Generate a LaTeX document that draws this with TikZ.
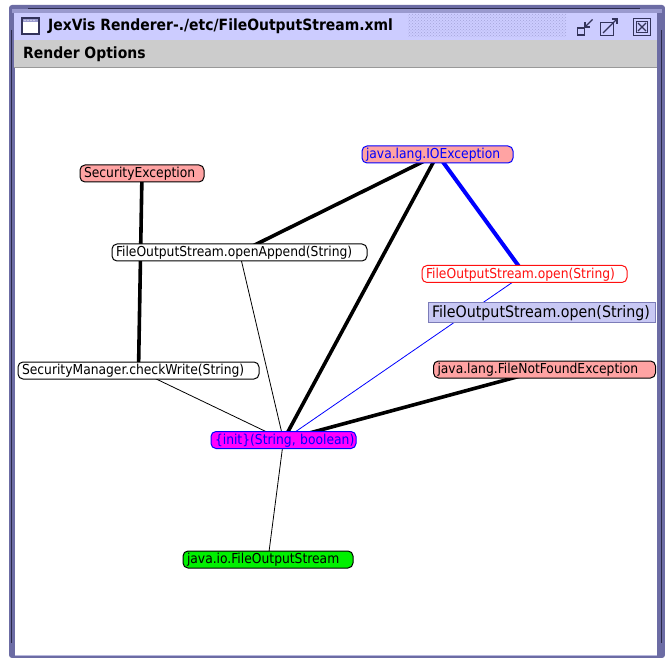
\documentclass[tikz,border=0pt]{standalone}
\usepackage{fontspec}
\setmainfont{DejaVu Sans}
\newfontfamily\condfont{DejaVu Sans Condensed}
\usetikzlibrary{patterns}

\definecolor{frameC}{HTML}{6C6CA4}
\definecolor{frameLight}{HTML}{9A9ACE}
\definecolor{frameDark}{HTML}{2A2A4A}
\definecolor{titleC}{HTML}{CCCCFF}
\definecolor{gripC}{HTML}{A4A4D8}
\definecolor{menuC}{HTML}{CCCCCC}
\definecolor{pinkC}{HTML}{FFA3A3}
\definecolor{magC}{HTML}{FF00FF}
\definecolor{greenC}{HTML}{00F000}
\definecolor{blueC}{HTML}{0000FF}
\definecolor{redC}{HTML}{FF1010}
\definecolor{tipFill}{HTML}{C8C8F4}
\definecolor{tipLine}{HTML}{7C7CB8}
\definecolor{iconC}{HTML}{33335A}

\pgfdeclarelayer{back}
\pgfdeclarelayer{links}
\pgfsetlayers{back,links,main}

\tikzset{
  lbl/.style={draw, rounded corners=5pt, line width=1pt, fill=white,
    font=\condfont\fontsize{13.7}{14}\selectfont,
    inner xsep=4pt, inner ysep=0pt, minimum height=17pt,
    align=left, text height=10.6pt, text depth=2.4pt},
  tip/.style={draw=tipLine, fill=tipFill, line width=1pt,
    font=\condfont\fontsize{15.8}{17}\selectfont,
    inner xsep=4pt, inner ysep=0pt, minimum height=20pt,
    align=left, text height=12pt, text depth=3pt},
  heavy/.style={line width=3.6pt, black},
  heavyblue/.style={line width=4pt, blueC},
  light/.style={line width=0.8pt, black},
  lightblue/.style={line width=0.8pt, blueC},
  barfont/.style={font=\condfont\bfseries\fontsize{15.5}{17}\selectfont}
}

\begin{document}
\begin{tikzpicture}[x=1pt,y=-1pt]
\useasboundingbox (0,0) rectangle (665,658);

% ---------- window frame ----------
\begin{pgfonlayer}{back}
  \fill[white] (0,0) rectangle (665,658);
  \fill[frameC, rounded corners=3pt] (9,5) rectangle (665,658);
  \fill[frameLight] (12,9) rectangle (662,13);
  \draw[frameDark, line width=1pt] (28,8.5) -- (640,8.5);
  \draw[frameDark, line width=1pt] (11.5,30) -- (11.5,643);
  \draw[frameDark, line width=1pt] (661.5,30) -- (661.5,643);
  % title bar with its grip area
  \fill[titleC] (14,13) rectangle (657,40);
  \fill[pattern=crosshatch dots, pattern color=gripC] (408,14) rectangle (566,37);
  % menu bar
  \fill[menuC] (14,40) rectangle (657,67);
  \draw[gray!80, line width=1pt] (14,67.5) -- (657,67.5);
  % drawing area
  \fill[white] (15,68) rectangle (657,655);
  \draw[frameLight!70!white, line width=1pt] (15,655.5) -- (657,655.5);
\end{pgfonlayer}

% window icon
\draw[iconC, fill=white, line width=1.3pt] (22,18) rectangle (39,34);
\fill[frameLight] (22.7,18.7) rectangle (38.3,22.5);
\foreach \i in {25,28,31,34} \fill[white] (\i,20.3) circle (0.6);

% title and menu text
\node[barfont, anchor=west, inner sep=0pt] (title) at (48,26.5) {JexVis Renderer-./etc/FileOutputStream.xml};
\node[barfont, anchor=west, inner sep=0pt] (menu) at (23,54) {Render Options};

% iconify button
\draw[iconC, line width=1.3pt] (577.5,28) rectangle (584.5,35);
\draw[iconC, line width=1.3pt] (585,27) -- (592.5,19.5);
\draw[iconC, line width=1.3pt] (585,22.5) -- (585,27) -- (589.5,27);
% maximize button
\draw[iconC, line width=1.3pt] (600.5,22.5) rectangle (613.5,35.5);
\draw[iconC, line width=1.3pt] (603,33) -- (617,19);
\draw[iconC, line width=1.3pt] (611.5,19) -- (617,19) -- (617,24.5);
% close button
\draw[iconC, line width=1.3pt] (633.5,18.5) rectangle (650.5,35.5);
\draw[iconC, line width=1pt] (636.5,21.5) rectangle (647.5,32.5);
\draw[iconC, line width=1.3pt] (638,23) -- (646,31) (646,23) -- (638,31);

% ---------- graph nodes ----------
\node[lbl, fill=pinkC, text width=116pt] (secex) at (142,173.5) {\mbox{SecurityException}};
\node[lbl, fill=pinkC, draw=blueC, text=blueC, text width=143pt] (ioex) at (437.5,154.5) {\mbox{java.lang.IOException}};
\node[lbl, text width=247pt] (append) at (239.5,252.5) {\mbox{FileOutputStream.openAppend(String)}};
\node[lbl, draw=redC, text=redC, text width=197pt] (open) at (524.5,274) {\mbox{FileOutputStream.open(String)}};
\node[lbl, text width=233pt] (checkw) at (138.5,370.5) {\mbox{SecurityManager.checkWrite(String)}};
\node[lbl, fill=pinkC, text width=214pt] (fnf) at (544.5,369.5) {\mbox{java.lang.FileNotFoundException}};
\node[lbl, fill=magC, draw=blueC, text=blueC, text width=137pt] (init) at (283.5,440) {\mbox{\{init\}(String, boolean)}};
\node[lbl, fill=greenC, text width=162pt] (fos) at (268,559.5) {\mbox{java.io.FileOutputStream}};
\node[tip, text width=219pt] (tooltip) at (541.5,313) {\mbox{FileOutputStream.open(String)}};

% ---------- connectors ----------
\begin{pgfonlayer}{links}
  \draw[heavy] (secex.center) -- (checkw.center);
  \draw[heavy] (ioex.center) -- (append.center);
  \draw[heavy] (ioex.center) -- (init.center);
  \draw[heavyblue] (ioex.center) -- (open.center);
  \draw[lightblue] (open.center) -- (init.center);
  \draw[heavy] (fnf.center) -- (init.center);
  \draw[light] (append.center) -- (init.center);
  \draw[light] (checkw.center) -- (init.center);
  \draw[light] (init.center) -- (fos.center);
\end{pgfonlayer}
\end{tikzpicture}
\end{document}
